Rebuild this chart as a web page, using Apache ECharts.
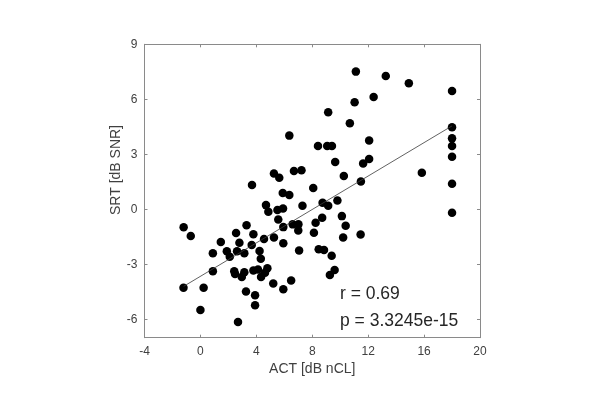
<!DOCTYPE html>
<html>
<head>
<meta charset="utf-8">
<script src="https://cdn.jsdelivr.net/npm/echarts@6/dist/echarts.min.js"></script>
<style>
html,body{margin:0;padding:0;background:#fff;}
#chart{width:610px;height:397px;}
</style>
</head>
<body>
<div id="chart"></div>
<script>
const actValues = [11.12,13.26,14.91,18,11.03,12.39,9.14,10.69,18,18,18,18,18,18,12.07,8.41,9.07,9.41,6.36,9.64,11.64,12.07,7.23,6.69,10.26,11.48,15.84,5.26,5.64,3.69,8.07,5.89,6.36,9.80,8.74,9.14,7.30,4.69,4.86,5.51,5.91,5.57,5.93,6.60,7.01,7.00,8.24,8.71,10.12,10.39,8.12,10.21,11.46,7.06,8.46,8.84,9.39,9.60,9.26,6.49,5.93,5.21,5.93,5.26,4.55,3.79,3.30,2.55,1.46,2.79,3.67,4.23,4.32,1.89,2.10,2.62,3.14,0.89,-1.20,-0.69,0.89,2.42,2.48,2.96,3.14,3.79,4.12,4.34,4.79,4.62,-1.21,0.23,3.26,3.91,3.91,0.00,2.69];
const srtValues = [7.51,7.27,6.87,6.45,5.84,6.13,5.29,4.69,4.47,3.87,3.45,2.87,1.40,-0.19,3.76,3.45,3.45,3.45,4.02,2.58,2.50,2.74,2.13,2.09,1.82,1.52,2.00,1.95,1.72,1.33,1.16,0.89,0.78,0.48,0.36,0.20,0.19,0.23,-0.13,-0.04,0.04,-0.55,-0.97,-0.82,-0.82,-1.16,-0.73,-0.46,-0.37,-0.90,-1.28,-1.54,-1.37,-2.25,-2.18,-2.22,-2.53,-3.31,-3.58,-3.88,-4.36,-4.05,-1.85,-1.54,-1.62,-1.36,-0.87,-1.29,-1.78,-1.82,-1.94,-2.27,-2.69,-2.29,-2.58,-2.29,-2.40,-2.40,-0.98,-1.46,-3.37,-3.38,-3.53,-3.69,-3.43,-3.33,-3.28,-3.69,-3.21,-3.46,-4.28,-4.28,-4.48,-4.68,-5.23,-5.49,-6.15];
const fitX = [-1.2, 18];
const fitY = [-4.2, 4.55];
const xTicks = [-4,0,4,8,12,16,20];
const yTicks = [-6,-3,0,3,6,9];
const xName = 'ACT [dB nCL]';
const yName = 'SRT [dB SNR]';
const statR = 'r = 0.69';
const statP = 'p = 3.3245e-15';

const FONT = '"Liberation Sans", Arial, sans-serif';
const AXC = '#8a8a8a';
const TXC = '#404040';

const pts = actValues.map((x,i)=>[x, srtValues[i]]);
const fit = fitX.map((x,i)=>[x, fitY[i]]);

const chart = echarts.init(document.getElementById('chart'), null, {renderer:'canvas'});
const baseX = {type:'value', min:-4, max:20, interval:4, splitLine:{show:false},
  axisLine:{onZero:false, lineStyle:{color:AXC, width:1}},
  axisTick:{inside:true, length:3, lineStyle:{color:AXC}}};
const baseY = {type:'value', min:-7, max:9, splitLine:{show:false},
  axisLine:{onZero:false, lineStyle:{color:AXC, width:1}},
  axisTick:{inside:true, length:3, customValues:yTicks, lineStyle:{color:AXC}}};
chart.setOption({
  animation:false,
  backgroundColor:'#fff',
  grid:{left:144.5, right:130, top:44.3, bottom:59.3, containLabel:false},
  xAxis:[
    Object.assign({}, baseX, {position:'bottom', name:xName, nameLocation:'middle', nameGap:22,
      nameTextStyle:{fontFamily:FONT, fontSize:14, color:TXC},
      axisLabel:{show:true, margin:8, fontFamily:FONT, fontSize:12, color:TXC, customValues:xTicks}}),
    Object.assign({}, baseX, {position:'top', axisLabel:{show:false}})
  ],
  yAxis:[
    Object.assign({}, baseY, {position:'left',
      axisLabel:{show:true, margin:7, fontFamily:FONT, fontSize:12, color:TXC, customValues:yTicks}}),
    Object.assign({}, baseY, {position:'right', axisLabel:{show:false}})
  ],
  graphic:[
    {type:'text', x:116, y:170, rotation:Math.PI/2,
      style:{text:yName, fontFamily:FONT, fontSize:14, fill:TXC, align:'center', verticalAlign:'middle'}},
    {type:'text', left:340, top:285,
      style:{text:statR, fontFamily:FONT, fontSize:17.5, fill:'#262626'}},
    {type:'text', left:340, top:312,
      style:{text:statP, fontFamily:FONT, fontSize:17.5, fill:'#262626'}}
  ],
  series:[
    {type:'scatter', data:pts, symbol:'circle', symbolSize:8.5, itemStyle:{color:'#000', opacity:1}, z:2},
    {type:'line', data:fit, showSymbol:false, symbol:'none', lineStyle:{color:'#3a3a3a', width:0.8}, z:3}
  ]
});
</script>
</body>
</html>
